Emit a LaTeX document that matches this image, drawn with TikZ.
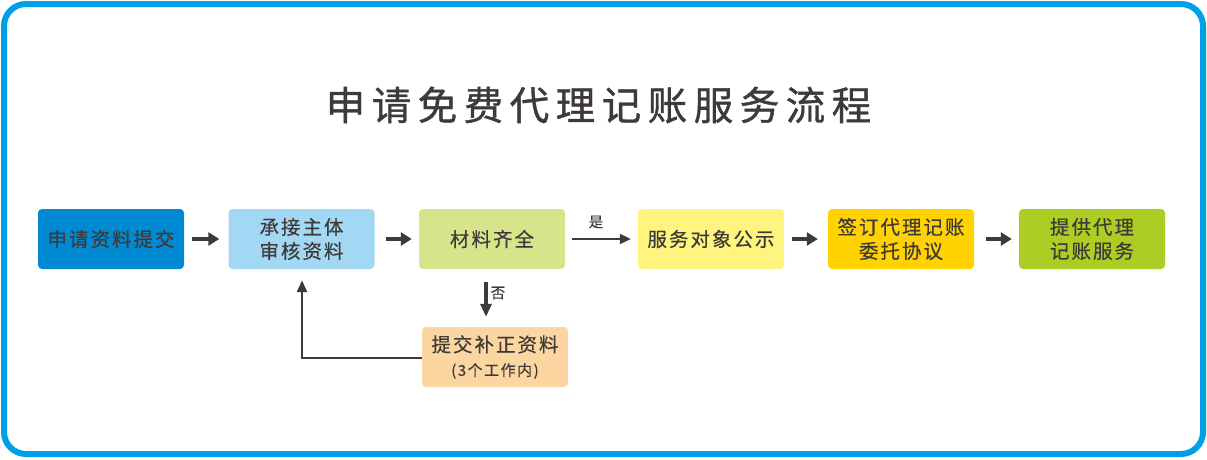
\documentclass[tikz,border=0pt]{standalone}
\usepackage{fontspec}
\setmainfont[FakeBold=0.4]{Noto Sans CJK SC}
\newfontfamily\titlefont[FakeBold=1]{Noto Sans CJK SC}
\usetikzlibrary{arrows.meta,calc}
\makeatletter
\newcommand\lsp[2]{\let\lsp@first\relax\@tfor\lsp@c:=#2\do{\ifx\lsp@first\relax\let\lsp@first\@empty\else\hspace{#1}\fi\lsp@c}}
\makeatother
\definecolor{txt}{HTML}{3E3A39}
\definecolor{frame}{HTML}{00A0E9}
\definecolor{cA}{HTML}{008AD4}
\definecolor{cB}{HTML}{A3D8F5}
\definecolor{cC}{HTML}{D8E48A}
\definecolor{cD}{HTML}{FFF47E}
\definecolor{cE}{HTML}{FFD200}
\definecolor{cF}{HTML}{ADCD24}
\definecolor{cG}{HTML}{FCD6A0}
\tikzset{
  flowbox/.style={rectangle, rounded corners=4pt, minimum width=146pt, minimum height=60pt,
    inner sep=0pt, align=center, text=txt, font=\fontsize{19.5}{24}\selectfont},
  fatarrow/.style={draw=txt, line width=4pt, -{Triangle[length=11pt,width=13pt]}},
  thinarrow/.style={draw=txt, line width=2pt, -{Triangle[length=11pt,width=10pt]}},
  lbl/.style={text=txt, font=\fontsize{14.5}{16}\selectfont, inner sep=0pt}
}
\begin{document}
\begin{tikzpicture}[x=1pt,y=-1pt]
\useasboundingbox (0,0) rectangle (1207,459);
\draw[frame, line width=6pt, rounded corners=22pt] (4,4) rectangle (1203,454);
\node[text=txt, font=\titlefont\fontsize{39.5}{44}\selectfont, inner sep=0pt] (title) at (598.5,105) {\lsp{6.5pt}{申请免费代理记账服务流程}};
\node[flowbox, fill=cA] (b1) at (111,239) {\lsp{2pt}{申请资料提交}};
\node[flowbox, fill=cB] (b2) at (301.5,239) {\lsp{2pt}{承接主体}\\\lsp{2pt}{审核资料}};
\node[flowbox, fill=cC] (b3) at (492,239) {\lsp{2pt}{材料齐全}};
\node[flowbox, fill=cD] (b4) at (711,239) {\lsp{2pt}{服务对象公示}};
\node[flowbox, fill=cE] (b5) at (901,239) {\lsp{2pt}{签订代理记账}\\\lsp{2pt}{委托协议}};
\node[flowbox, fill=cF] (b6) at (1092,239) {\lsp{2pt}{提供代理}\\\lsp{2pt}{记账服务}};
\node[flowbox, fill=cG] (b7) at (495,357) {\lsp{2pt}{提交补正资料}\\{\fontsize{15}{21}\selectfont\lsp{1.5pt}{(3个工作内)}}};
\draw[fatarrow, shorten <=8pt, shorten >=9pt] (b1.east) -- (b2.west);
\draw[fatarrow, shorten <=11pt, shorten >=7pt] (b2.east) -- (b3.west);
\draw[thinarrow, shorten <=7pt, shorten >=7pt] (b3.east) -- (b4.west);
\draw[fatarrow, shorten <=8pt, shorten >=10pt] (b4.east) -- (b5.west);
\draw[fatarrow, shorten <=12pt, shorten >=7pt] (b5.east) -- (b6.west);
\node[lbl] (yes) at (596,222) {是};
\coordinate (dtop) at ($(b3.south)+(-6,13)$);
\coordinate (dbot) at ($(b7.north)+(-9,-10)$);
\draw[draw=txt, line width=3.5pt, -{Triangle[length=13pt,width=11pt]}] (dtop) -- (dbot);
\node[lbl] (no) at (498,293) {否};
\coordinate (fb) at (302,358);
\coordinate (fbtop) at ($(b2.south)+(0.5,11)$);
\draw[draw=txt, line width=2.5pt, -{Triangle[length=12pt,width=10pt]}] (b7.west |- fb) -- (fb) -- (fbtop);
\end{tikzpicture}
\end{document}
